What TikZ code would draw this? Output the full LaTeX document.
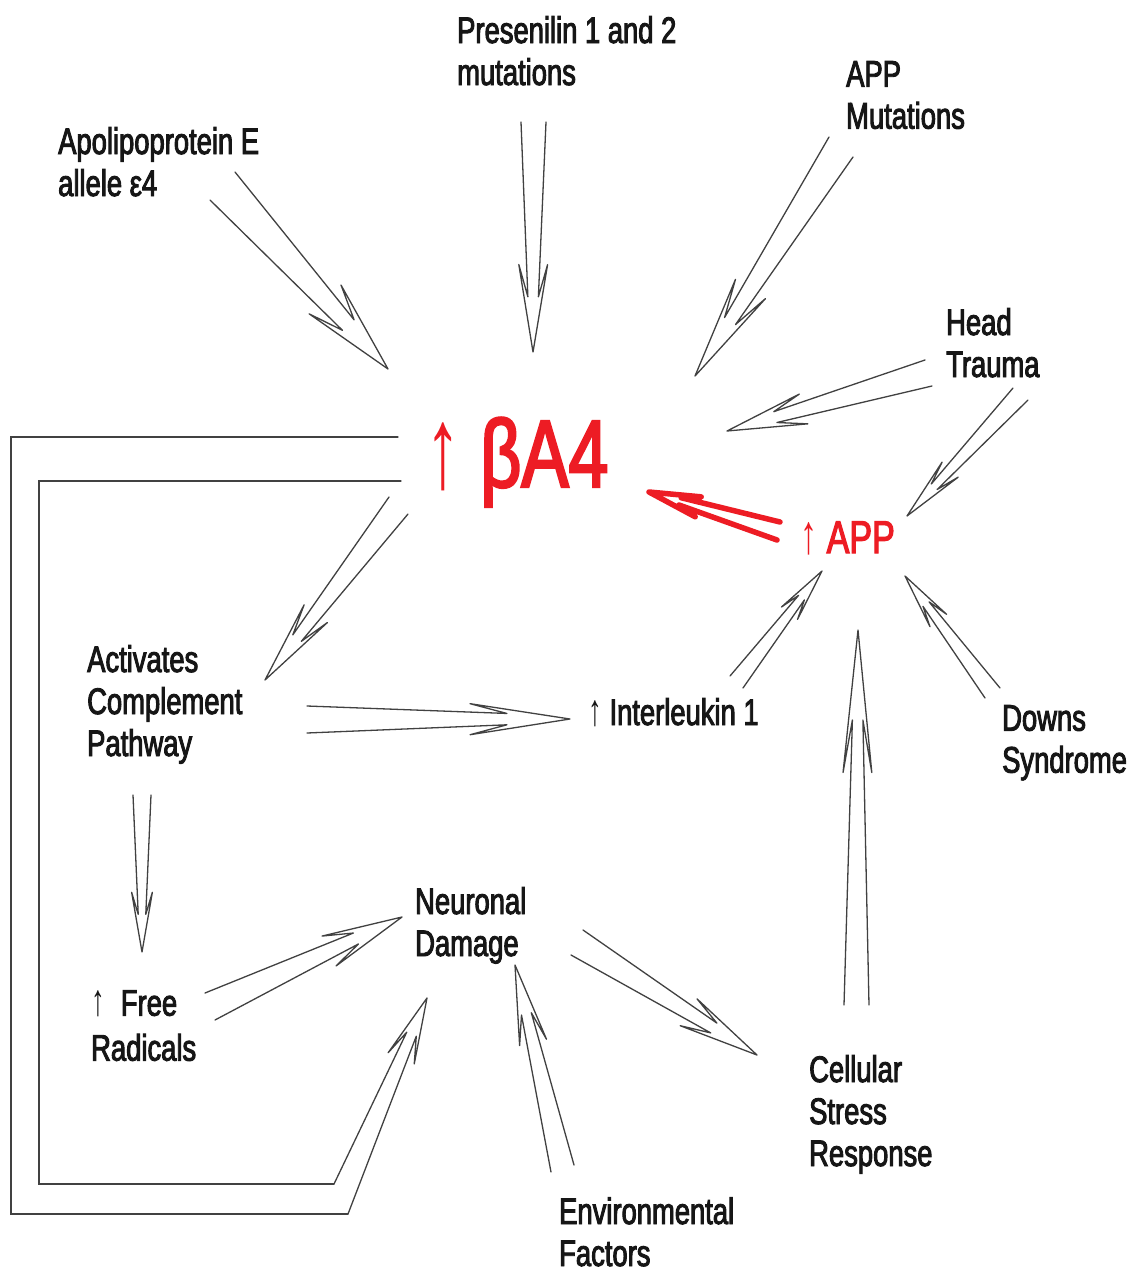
\documentclass[tikz,border=0pt]{standalone}
\usepackage{fontspec}
\usepackage{graphicx}
\setmainfont{Liberation Sans}[FakeStretch=0.74, FakeBold=2.5]
\newfontfamily\arrfont{Liberation Sans}[FakeStretch=0.74]
\usetikzlibrary{calc}
\definecolor{redA}{RGB}{237,28,36}
\definecolor{ink}{RGB}{22,22,22}
\definecolor{lin}{RGB}{65,65,65}
\newcommand\upar{{\arrfont\scalebox{1}[1.2]{↑}}}
\tikzset{
  lbl/.style={inner sep=0pt, anchor=north west, align=left, font=\fontsize{37}{42}\selectfont, text=ink},
  arr/.style={draw=lin, line width=1.3pt, line join=round, line cap=round},
  redarr/.style={draw=redA, line width=5.5pt, line join=round, line cap=round}
}
% double-line arrow: #1 style, #2 start A, #3 start B, #4 tip, #5 shaft-end fraction, #6 barb fraction
\newcommand\dblhead[6][arr]{%
  \coordinate (dM) at ($(#2)!0.5!(#3)$);
  \coordinate (dQa) at ($(dM)!(#2)!(#4)$);
  \coordinate (dQb) at ($(dM)!(#3)!(#4)$);
  \coordinate (dE) at ($(dM)!#5!(#4)$);
  \coordinate (dP) at ($(dM)!#6!(#4)$);
  \draw[#1] (#2) -- ($(dE)+0.42*(#2)-0.42*(dQa)$) -- ($(dP)+1.15*(#2)-1.15*(dQa)$) -- (#4)
     -- ($(dP)+1.15*(#3)-1.15*(dQb)$) -- ($(dE)+0.42*(#3)-0.42*(dQb)$) -- (#3);
}
\newcommand\dbl[4][arr]{\dblhead[#1]{#2}{#3}{#4}{0.76}{0.62}}
\begin{document}
\begin{tikzpicture}[x=1pt,y=-1pt]
\useasboundingbox (0,0) rectangle (1131,1282);
\fill[white] (0,0) rectangle (1131,1282);

% labels
\node[lbl] (apoe) at (58,127) {Apolipoprotein E\\allele ε4};
\node[lbl] (psen) at (457,16) {Presenilin 1 and 2\\mutations};
\node[lbl] (appm) at (846,61) {APP\\Mutations};
\node[lbl] (head) at (946,308) {Head\\Trauma};
\node[inner sep=0pt, anchor=base west, text=redA, font=\fontsize{96}{100}\selectfont] (ba4) at (425,487) {\upar\ βA4};
\node[inner sep=0pt, anchor=base west, text=redA, font=\fontsize{46}{50}\selectfont] (app) at (800,553) {\upar\ APP};
\node[lbl] (acp) at (87,645) {Activates\\Complement\\Pathway};
\node[inner sep=0pt, anchor=base west, text=ink, font=\fontsize{37}{42}\selectfont] (il1) at (588,725) {\upar\ Interleukin 1};
\node[lbl] (down) at (1002,705) {Downs\\Syndrome};
\node[lbl] (neur) at (415,887) {Neuronal\\Damage};
\node[lbl, font=\fontsize{37}{45}\selectfont] (free) at (91,990) {\upar\hspace{16pt}Free\\Radicals};
\node[lbl] (csr) at (809,1055) {Cellular\\Stress\\Response};
\node[lbl] (env) at (559,1197) {Environmental\\Factors};

% arrow end points
\coordinate (a1a) at (210,200); \coordinate (a1b) at (235,172); \coordinate (a1t) at (388,369);
\coordinate (a2a) at (521,122); \coordinate (a2b) at (546,122); \coordinate (a2t) at (533,352);
\coordinate (a3a) at (829,137); \coordinate (a3b) at (853,157); \coordinate (a3t) at (695,376);
\coordinate (a4a) at (925,360); \coordinate (a4b) at (932,386); \coordinate (a4t) at (727,431);
\coordinate (a5a) at (1013,388); \coordinate (a5b) at (1028,400); \coordinate (a5t) at (907,516);
\coordinate (a6a) at (780,522); \coordinate (a6b) at (777,540); \coordinate (a6t) at (649,492);
\coordinate (a7a) at (389,497); \coordinate (a7b) at (408,514); \coordinate (a7t) at (265,680);
\coordinate (a8a) at (307,706); \coordinate (a8b) at (307,733); \coordinate (a8t) at (570,719);
\coordinate (a9a) at (730,676); \coordinate (a9b) at (743,688); \coordinate (a9t) at (822,571);
\coordinate (a10a) at (985,698); \coordinate (a10b) at (1000,688); \coordinate (a10t) at (905,576);
\coordinate (a11a) at (844,1005); \coordinate (a11b) at (869,1005); \coordinate (a11t) at (858,630);
\coordinate (a12a) at (133,795); \coordinate (a12b) at (151,795); \coordinate (a12t) at (142,952);
\coordinate (a13a) at (205,993); \coordinate (a13b) at (215,1020); \coordinate (a13t) at (402,917);
\coordinate (a14a) at (583,930); \coordinate (a14b) at (571,955); \coordinate (a14t) at (757,1055);
\coordinate (a15a) at (551,1172); \coordinate (a15b) at (574,1165); \coordinate (a15t) at (515,965);

\dbl{a1a}{a1b}{a1t}
\dbl{a2a}{a2b}{a2t}
\dbl{a3a}{a3b}{a3t}
\dbl{a4a}{a4b}{a4t}
\dbl{a5a}{a5b}{a5t}
\dbl[redarr]{a6a}{a6b}{a6t}
\dbl{a7a}{a7b}{a7t}
\dbl{a8a}{a8b}{a8t}
\dbl{a9a}{a9b}{a9t}
\dbl{a10a}{a10b}{a10t}
\dbl{a11a}{a11b}{a11t}
\dbl{a12a}{a12b}{a12t}
\dbl{a13a}{a13b}{a13t}
\dbl{a14a}{a14b}{a14t}
\dbl{a15a}{a15b}{a15t}

% feedback loop from beta A4 to neuronal damage
\coordinate (lo1) at (398,437); \coordinate (lo2) at (11,437); \coordinate (lo3) at (11,1214); \coordinate (loA) at (348,1214);
\coordinate (li1) at (401,481); \coordinate (li2) at (39,481); \coordinate (li3) at (39,1184); \coordinate (loB) at (334,1184);
\coordinate (loT) at (427,998);
\draw[arr, line join=miter] (lo1) -- (lo2) -- (lo3) -- (loA);
\draw[arr, line join=miter] (li1) -- (li2) -- (li3) -- (loB);
\dblhead{loA}{loB}{loT}{0.82}{0.7}
\end{tikzpicture}
\end{document}
